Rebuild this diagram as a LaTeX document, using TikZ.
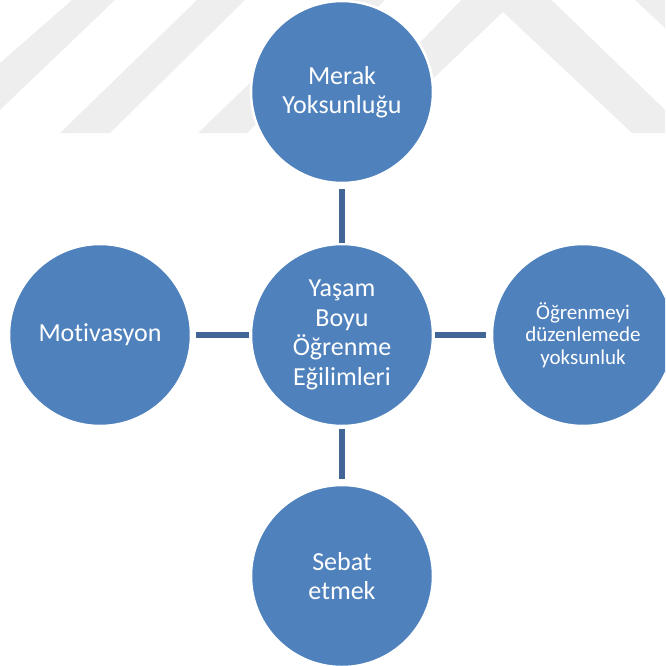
\documentclass[tikz,border=0pt]{standalone}
\usepackage{fontspec}
\setmainfont{Carlito}[Ligatures={NoCommon,NoContextual}]
\definecolor{circfill}{RGB}{79,129,189}
\definecolor{linkcol}{RGB}{64,101,150}
\definecolor{wmgray}{RGB}{238,238,238}
\begin{document}
\begin{tikzpicture}[x=1pt,y=-1pt,
  bubble/.style={circle, fill=circfill, draw=white, line width=2.5pt,
    minimum size=182pt, inner sep=0pt, outer sep=0pt, text=white,
    align=center, font=\fontsize{26}{29.5}\selectfont},
  link/.style={draw=linkcol, line width=5.5pt},
  wmark/.style={fill=wmgray}
]
\useasboundingbox (0,0) rectangle (665,666);
\clip (0,0) rectangle (665,666);
% faint watermark
\fill[wmark] (0,63) -- (72,0) -- (115,0) -- (0,110) -- cycle;
\fill[wmark] (60,133) -- (197,0) -- (245,0) -- (110,133) -- cycle;
\fill[wmark] (198,133) -- (336,0) -- (385,0) -- (247,133) -- cycle;
\fill[wmark] (332,133) -- (505,-45) -- (689,133) -- (632,133) -- (503,12) -- (376,133) -- cycle;
\fill[wmark] (635,0) -- (665,0) -- (665,28) -- cycle;
% circles
\node[bubble] (top) at (342,92) {Merak\\Yoksunluğu};
\node[bubble] (mid) at (342,335) {Yaşam\\Boyu\\Öğrenme\\Eğilimleri};
\node[bubble] (lft) at (100,335) {Motivasyon};
\node[bubble, font=\fontsize{21}{22.5}\selectfont] (rgt) at (583,335) {Öğrenmeyi\\düzenlemede\\yoksunluk};
\node[bubble] (bot) at (342,576) {Sebat\\etmek};
% connectors
\draw[link, shorten <=6pt, shorten >=1pt] (top.south) -- (mid.north);
\draw[link, shorten <=3pt, shorten >=6pt] (mid.south) -- (bot.north);
\draw[link, shorten <=5pt, shorten >=2pt] (lft.east) -- (mid.west);
\draw[link, shorten <=2pt, shorten >=6pt] (mid.east) -- (rgt.west);
\end{tikzpicture}
\end{document}
